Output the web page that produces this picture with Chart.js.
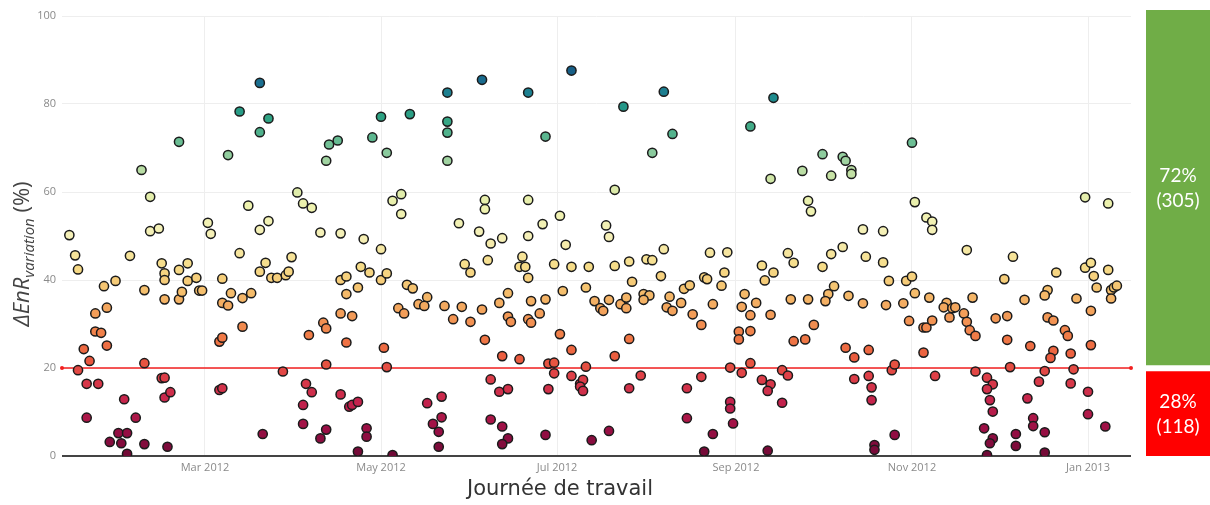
<!DOCTYPE html>
<html>
<head>
<meta charset="utf-8">
<script src="https://cdn.jsdelivr.net/npm/chart.js@4.4.0/dist/chart.umd.min.js"></script>
<style>
html,body{margin:0;padding:0;background:#fff;width:1210px;height:505px;overflow:hidden;}
#main{position:absolute;left:0;top:0;}
#side{position:absolute;left:1146px;top:0;}
#ytitle{position:absolute;left:-130px;top:239px;width:300px;height:30px;line-height:30px;text-align:center;
  transform:rotate(-90deg);font-family:"Open Sans",sans-serif;font-size:22px;color:#444;white-space:nowrap;}
#ytitle sub{font-size:15px;vertical-align:-5px;}
#xtitle{position:absolute;left:410px;top:476px;width:300px;text-align:center;font-family:"DejaVu Sans",sans-serif;
  font-size:21px;color:#333;white-space:nowrap;}
</style>
</head>
<body>
<canvas id="main" width="1140" height="505" style="width:1140px;height:505px"></canvas>
<canvas id="side" width="64" height="505" style="width:64px;height:505px"></canvas>
<div id="ytitle"><i>ΔEnR<sub>variation</sub></i> (%)</div>
<div id="xtitle">Journée de travail</div>
<script>
// ---- data (x = day number counted from 2012-01-01 = 0) ----
const xTickDays = [60, 121, 182, 244, 305, 366];
const xTickLabels = ['Mar 2012', 'May 2012', 'Jul 2012', 'Sep 2012', 'Nov 2012', 'Jan 2013'];
const yTickValues = [0, 20, 40, 60, 80, 100];
const threshold = 20;
const groupLabels = ['< 20 %', '≥ 20 %'];
const groupCounts = [118, 305];
const bandLow = [0, 19.2];
const bandHigh = [20.7, 101.4];

const days = [
13,15,16,18,16,20,19,19,23,25,22,26,22,24,26,27,29,32,30,33,31,33,34,36,38,39,39,39,41,41,44,45,46,46,46,45,46,46,48,47,51,51,51,54,52,54,57,58,59,
79,72,82,79,68,75,61,62,82,79,72,81,79,83,85,88,89,90,66,69,66,68,73,76,73,65,66,65,66,87,80,92,94,97,100,96,95,97,94,94,100,102,103,102,101,102,102,
106,144,121,131,118,123,144,144,144,125,128,128,148,107,115,121,114,117,107,109,113,109,121,123,130,132,150,137,134,136,127,129,143,146,149,107,111,109,122,123,107,110,111,113,116,116,113,125,137,142,142,139,141,141,
156,172,187,178,157,157,172,183,155,159,163,172,177,185,152,158,170,169,171,172,181,187,193,192,184,165,162,156,173,178,195,152,165,166,172,173,176,157,183,187,163,169,179,181,192,181,187,159,190,191,190,191,162,165,179,159,163,165,163,178,194,
219,205,222,215,202,199,200,219,235,241,202,207,213,215,240,218,208,233,234,226,228,239,212,214,200,197,198,204,206,206,212,221,220,222,225,236,229,232,245,245,207,202,211,232,242,207,227,242,242,243,227,200,236,233,
257,249,274,281,282,284,284,267,256,277,269,270,288,281,277,289,262,264,253,254,257,274,278,276,275,247,251,246,249,263,269,283,288,256,271,249,264,268,282,285,249,246,260,262,285,253,256,255,260,255,
305,306,310,312,312,324,295,295,297,303,305,306,337,296,302,311,317,316,319,320,318,323,326,324,325,327,334,304,309,310,312,290,309,298,299,313,327,290,291,291,331,333,331,332,333,299,292,292,330,333,332,331,
365,373,340,355,365,367,368,369,373,374,375,376,374,352,351,362,344,367,338,352,354,358,359,338,346,367,354,353,360,339,351,361,349,360,366,345,366,347,347,372,341,341,351,351
];
const values = [
50.2,45.6,42.4,24.3,19.5,21.6,16.4,8.7,16.4,38.6,32.4,33.7,28.3,28.0,25.1,3.2,39.8,12.9,5.2,5.2,2.9,0.5,45.5,8.7,65.0,37.7,21.1,2.7,58.9,51.1,51.7,43.8,41.5,40.0,35.6,17.7,17.8,13.3,14.5,2.1,71.4,35.6,42.3,43.8,37.3,39.8,40.5,37.6,37.6,
84.8,78.3,76.7,73.6,68.4,56.9,53.0,50.5,53.4,51.4,46.1,43.9,41.9,40.5,40.5,41.1,41.9,45.2,40.3,37.0,34.8,34.2,35.9,37.0,29.4,26.0,26.9,15.0,15.4,19.2,5.0,59.9,57.4,56.4,50.8,27.5,16.4,14.5,11.6,7.3,4.0,6.0,70.8,67.1,30.3,29.0,20.8,
71.7,82.6,77.1,77.7,72.4,68.9,76.0,73.5,67.1,58.0,59.5,55.0,52.9,50.6,49.3,47.0,43.0,41.7,40.0,40.8,38.3,36.8,40.0,41.5,38.9,38.1,43.6,36.1,34.5,34.1,33.6,32.4,34.1,31.1,33.9,32.4,31.8,25.8,24.6,20.2,14.0,11.2,11.6,12.3,6.3,4.4,1.0,0.2,12.0,13.5,8.8,7.3,5.5,2.1,
85.5,82.6,87.6,72.6,58.2,56.1,58.2,54.6,51.0,48.3,49.5,50.0,52.7,48.0,41.7,44.5,45.3,43.0,43.0,40.5,43.6,43.0,43.0,38.3,37.5,37.0,34.8,33.3,35.2,35.6,35.2,30.5,31.7,30.5,31.1,30.3,32.4,26.4,27.7,24.1,22.7,22.0,21.0,21.2,20.3,18.8,18.2,17.4,16.4,17.3,15.8,14.8,14.6,15.2,15.2,8.3,6.7,4.0,2.7,4.8,3.6,
82.8,79.4,73.2,68.9,60.5,52.4,49.8,47.0,46.2,46.3,43.2,44.2,44.7,44.5,41.7,40.9,39.6,40.6,40.2,38.0,38.8,38.7,36.8,36.5,35.5,33.6,33.0,34.5,36.0,33.6,35.5,36.2,33.8,33.0,34.8,34.5,32.2,29.8,28.3,26.5,26.6,22.7,18.3,18.0,20.1,15.4,15.4,12.3,10.8,7.4,8.6,5.7,5.0,1.0,
81.4,74.9,68.6,68.0,67.1,65.0,64.1,64.8,63.0,63.7,58.0,55.6,51.5,47.5,45.9,45.3,46.1,43.9,43.3,39.9,41.7,43.0,38.6,36.8,35.2,36.8,34.8,33.9,32.0,35.6,35.6,36.4,34.7,32.1,29.8,28.4,26.1,26.5,24.6,22.4,21.1,18.9,19.5,18.3,17.5,17.3,16.3,14.8,12.1,1.2,
71.2,57.7,54.2,53.3,51.4,46.8,51.1,44.0,39.8,39.8,40.8,37.0,40.2,34.3,34.7,36.0,34.8,33.8,33.6,33.8,31.5,32.4,36.0,30.5,28.6,27.3,31.3,30.7,29.2,29.2,30.8,24.1,23.5,19.5,20.8,18.2,19.2,18.2,15.6,12.7,17.8,16.3,15.2,12.7,10.1,4.8,2.5,1.4,6.3,4.0,2.9,0.2,
58.8,57.4,45.3,41.7,42.8,43.9,40.9,38.3,42.3,37.7,38.3,38.7,35.8,37.7,36.5,35.8,35.5,33.0,31.8,31.5,30.8,28.6,27.3,26.4,25.0,25.2,23.9,22.3,23.3,20.2,19.3,19.7,16.9,16.5,14.6,13.1,9.5,8.6,6.8,6.7,5.0,2.3,5.4,0.8
];

// ---- colour scale (value -> colour) ----
const colorStops = [
  [0,'#6e0a35'],[6,'#9a0f45'],[12,'#c3224d'],[18,'#de3f48'],[22,'#ea5a3e'],[27,'#f07a46'],
  [33,'#f3a25b'],[38,'#f5c26f'],[43,'#f6dc88'],[50,'#f5f0b8'],[57,'#eef2ae'],[63,'#cfe5a6'],
  [68,'#96cfa0'],[73,'#55b48d'],[77,'#2da283'],[81,'#1f8f8c'],[84,'#1b7393'],[88,'#165d86']
];
function hex2rgb(h){return [parseInt(h.substr(1,2),16),parseInt(h.substr(3,2),16),parseInt(h.substr(5,2),16)];}
function colorFor(v){
  if (v <= colorStops[0][0]) return colorStops[0][1];
  for (let i = 1; i < colorStops.length; i++) {
    if (v <= colorStops[i][0]) {
      const [v0,c0] = colorStops[i-1], [v1,c1] = colorStops[i];
      const t = (v - v0) / (v1 - v0);
      const a = hex2rgb(c0), b = hex2rgb(c1);
      return 'rgb(' + a.map((x,k)=>Math.round(x + (b[k]-x)*t)).join(',') + ')';
    }
  }
  return colorStops[colorStops.length-1][1];
}

const X_MIN = 10.45, X_MAX = 380.9;

new Chart(document.getElementById('main'), {
  type: 'scatter',
  data: {
    datasets: [
      {
        data: days.map((d,i)=>({x:d, y:values[i]})),
        pointBackgroundColor: values.map(colorFor),
        pointBorderColor: '#1b1b1b',
        pointBorderWidth: 1.5,
        pointRadius: 4.6,
        pointHoverRadius: 4.6,
        showLine: false,
        order: 1
      },
      {
        data: [{x:X_MIN, y:threshold}, {x:X_MAX, y:threshold}],
        showLine: true,
        borderColor: '#f21f1f',
        borderWidth: 1.5,
        pointRadius: 2,
        pointBackgroundColor: '#f21f1f',
        pointBorderWidth: 0,
        order: 2,
        clip: false
      }
    ]
  },
  options: {
    responsive: false,
    animation: false,
    events: [],
    layout: { padding: { left: 0, right: 9, top: 16, bottom: 0 } },
    plugins: { legend: { display: false }, tooltip: { enabled: false } },
    scales: {
      x: {
        type: 'linear', min: X_MIN, max: X_MAX,
        afterBuildTicks: (axis) => { axis.ticks = xTickDays.map(v => ({ value: v })); },
        afterFit: (axis) => { axis.height = 49; },
        ticks: {
          autoSkip: false, maxRotation: 0, padding: 5,
          color: '#8a8a8a', font: { family: 'Open Sans', size: 11 },
          callback: (v) => { const i = xTickDays.indexOf(v); return i >= 0 ? xTickLabels[i] : ''; }
        },
        grid: { color: '#eeeeee', lineWidth: 1, drawTicks: false },
        border: { display: false }
      },
      y: {
        min: 0, max: 100,
        afterBuildTicks: (axis) => { axis.ticks = yTickValues.map(v => ({ value: v })); },
        afterFit: (axis) => { axis.width = 62; },
        ticks: { padding: 6, color: '#8a8a8a', font: { family: 'Open Sans', size: 11 } },
        grid: {
          drawTicks: false,
          color: (c) => c.tick && c.tick.value === 0 ? '#444444' : '#eeeeee',
          lineWidth: (c) => c.tick && c.tick.value === 0 ? 2 : 1
        },
        border: { display: false }
      }
    }
  }
});

// ---- side summary bars ----
const total = groupCounts[0] + groupCounts[1];
const barLabelPlugin = {
  id: 'barLabels',
  afterDatasetsDraw(chart) {
    const ctx = chart.ctx;
    ctx.save();
    ctx.fillStyle = '#ffffff';
    ctx.textAlign = 'center';
    ctx.textBaseline = 'middle';
    ctx.font = '19px Lato, "Open Sans", sans-serif';
    chart.data.datasets.forEach((ds, di) => {
      const el = chart.getDatasetMeta(di).data[0];
      const cy = (el.y + el.base) / 2;
      const pct = Math.round(groupCounts[di] / total * 100) + '%';
      ctx.fillText(pct, el.x, cy - 12);
      ctx.fillText('(' + groupCounts[di] + ')', el.x, cy + 13);
    });
    ctx.restore();
  }
};

new Chart(document.getElementById('side'), {
  type: 'bar',
  data: {
    labels: [''],
    datasets: [
      { label: groupLabels[0], data: [bandLow], backgroundColor: '#ff0000', grouped: false, barPercentage: 1, categoryPercentage: 1, borderWidth: 0 },
      { label: groupLabels[1], data: [bandHigh], backgroundColor: '#70ad47', grouped: false, barPercentage: 1, categoryPercentage: 1, borderWidth: 0 }
    ]
  },
  options: {
    responsive: false,
    animation: false,
    events: [],
    layout: { padding: { left: 0, right: 0, top: 10, bottom: 49 } },
    plugins: { legend: { display: false }, tooltip: { enabled: false } },
    scales: {
      x: { display: false },
      y: { display: false, min: 0, max: 101.4 }
    }
  },
  plugins: [barLabelPlugin]
});
</script>
</body>
</html>
